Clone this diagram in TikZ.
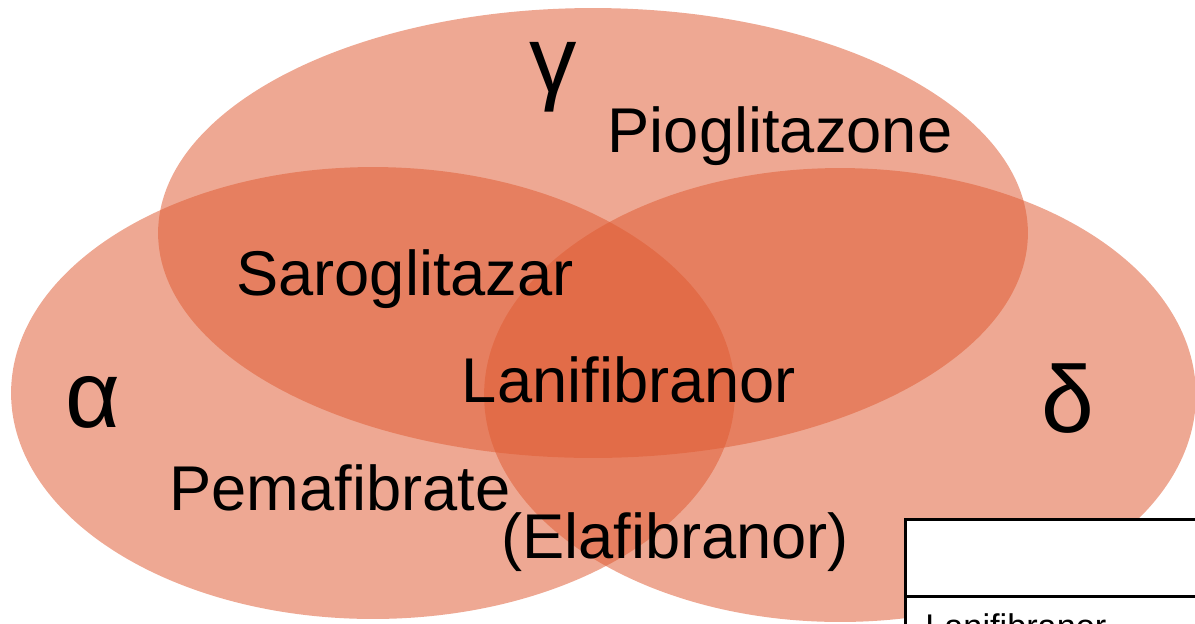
\documentclass[tikz,border=0pt]{standalone}
\usepackage{fontspec}
\setmainfont{Liberation Sans}
\usetikzlibrary{shapes.geometric}
\definecolor{pparred}{HTML}{DF5B33}

\begin{document}
\begin{tikzpicture}[x=0.02cm, y=-0.02cm,
    ring/.style={ellipse, fill=pparred, fill opacity=0.53, inner sep=0pt},
    drug/.style={anchor=base, inner sep=0pt, font=\fontsize{36}{40}\selectfont},
    iso/.style={anchor=base, inner sep=0pt, font=\fontsize{54}{60}\selectfont},
    tabbox/.style={draw=black, line width=1.7pt, fill=white},
    tabtext/.style={anchor=base west, inner sep=0pt, font=\fontsize{19.5}{22}\selectfont},
  ]
  \useasboundingbox (0,0) rectangle (1195,623);
  \clip (0,0) rectangle (1195,623);

  % receptor ellipses
  \node[ring, minimum width=17.4cm, minimum height=9cm] (gammaring) at (593,233) {};
  \node[ring, minimum width=14.48cm, minimum height=9.04cm] (alpharing) at (373,393) {};
  \node[ring, minimum width=14.24cm, minimum height=9.08cm] (deltaring) at (840,395) {};

  % receptor names
  \node[iso] (gam) at (553,92) {γ};
  \node[iso] (alp) at (93,427) {α};
  \node[iso] (del) at (1068,432) {δ};

  % drugs
  \node[drug] (pio) at (780,152) {Pioglitazone};
  \node[drug] (saro) at (405,295) {Saroglitazar};
  \node[drug] (lani) at (629,402) {Lanifibranor};
  \node[drug] (pema) at (340,510) {Pemafibrate};
  \node[drug] (ela) at (675,558) {(Elafibranor)};

  % table, cut off at the corner
  \draw[tabbox] (905,519) rectangle (1240,680);
  \draw[tabbox] (905,596) -- (1240,596);
  \node[tabtext] (tablani) at (925,638) {Lanifibranor};
\end{tikzpicture}
\end{document}
